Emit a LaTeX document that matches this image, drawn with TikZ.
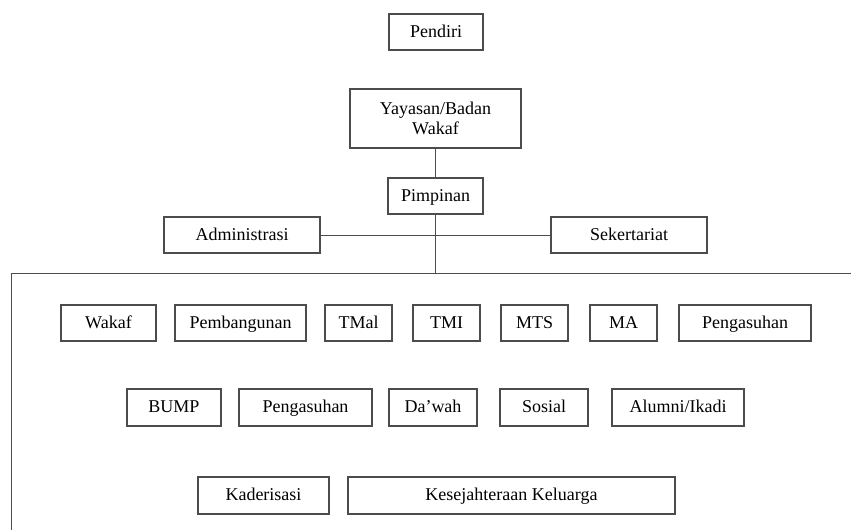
\documentclass[tikz,border=0pt]{standalone}
\usepackage{fontspec}
\setmainfont{Liberation Serif}
\usepackage{tikz}
\usetikzlibrary{positioning}
\definecolor{boxline}{rgb}{0.3, 0.3, 0.3}

\begin{document}
\begin{tikzpicture}[x=1pt, y=-1pt, every node/.style={font={\fontsize{18}{20}\selectfont}},
                    box/.style={draw=boxline, line width=1.1pt, inner sep=0pt, align=center, minimum height=36pt, text height=14pt, text depth=4pt},
                    link/.style={draw=boxline, line width=1pt}]
                            \useasboundingbox (0,0) rectangle (851,530);

                            % atas
                            \node[box, minimum width=94pt] (pendiri) at (436,32) {Pendiri};
                            \node[box, minimum width=171pt, minimum height=59pt, text height=, text depth=] (yayasan) at (435.5,118.5) {Yayasan/Badan\\Wakaf};
                            \node[box, minimum width=95pt] (pimpinan) at (435.5,196) {Pimpinan};
                            \node[box, minimum width=156pt] (admin) at (242,235) {Administrasi};
                            \node[box, minimum width=156pt] (sekretariat) at (629,235) {Sekertariat};

                            \coordinate (frametop) at (435.5,273);
                            \coordinate (frameleft) at (11,273);
                            \coordinate (frameright) at (851,273);
                            \coordinate (framebottom) at (11,530);

                            \draw[link] (yayasan) -- (pimpinan);
                            \draw[link] (pimpinan) -- (frametop);
                            \draw[link] (admin) -- (sekretariat);
                            \draw[link] (frameright) -- (frameleft) -- (framebottom);

                            % baris 1
                            \node[box, minimum width=95pt] (wakaf) at (108.5,323) {Wakaf};
                            \node[box, minimum width=131pt] (pembangunan) at (240.5,323) {Pembangunan};
                            \node[box, minimum width=67pt] (tmal) at (358.5,323) {TMal};
                            \node[box, minimum width=67pt] (tmi) at (446.5,323) {TMI};
                            \node[box, minimum width=67pt] (mts) at (534.5,323) {MTS};
                            \node[box, minimum width=67pt] (ma) at (623.5,323) {MA};
                            \node[box, minimum width=132pt] (pengasuhan) at (745,323) {Pengasuhan};

                            % baris 2
                            \node[box, minimum width=94pt, minimum height=37pt] (bump) at (174,407.5) {BUMP};
                            \node[box, minimum width=133pt, minimum height=37pt] (pengasuhanb) at (305.5,407.5) {Pengasuhan};
                            \node[box, minimum width=88pt, minimum height=37pt] (dawah) at (433,407.5) {Da’wah};
                            \node[box, minimum width=88pt, minimum height=37pt] (sosial) at (544,407.5) {Sosial};
                            \node[box, minimum width=132pt, minimum height=37pt] (alumni) at (678,407.5) {Alumni/Ikadi};

                            % baris 3
                            \node[box, minimum width=131pt, minimum height=37pt] (kaderisasi) at (263.5,495.5) {Kaderisasi};
                            \node[box, minimum width=327pt, minimum height=37pt] (kesejahteraan) at (511.5,495.5) {Kesejahteraan Keluarga};
                     \end{tikzpicture}
\end{document}
